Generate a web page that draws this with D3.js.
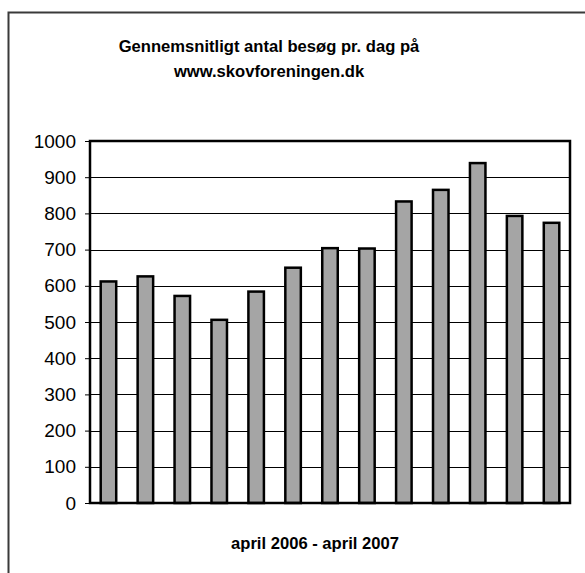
<!DOCTYPE html>
<html>
<head>
<meta charset="utf-8">
<script src="https://cdn.jsdelivr.net/npm/d3@7"></script>
<style>
  html, body { margin: 0; padding: 0; background: #fff; }
  svg { display: block; }
  text { font-family: "Liberation Sans", Arial, sans-serif; fill: #000; }
</style>
</head>
<body>
<svg id="chart" width="585" height="573"></svg>
<script>
const titleLines = ["Gennemsnitligt antal besøg pr. dag på", "www.skovforeningen.dk"];
const xAxisTitle = "april 2006 - april 2007";
const months = ["apr 06","maj 06","jun 06","jul 06","aug 06","sep 06","okt 06","nov 06","dec 06","jan 07","feb 07","mar 07","apr 07"];
const visits = [612, 626, 572, 506, 584, 650, 704, 703, 833, 865, 939, 793, 774];
const yTicks = [0, 100, 200, 300, 400, 500, 600, 700, 800, 900, 1000];

const svg = d3.select("#chart");
const plot = { left: 90, right: 570, top: 141, bottom: 503 };

// outer chart frame (cropped at right/bottom)
svg.append("rect")
  .attr("x", 8.5).attr("y", 12.5).attr("width", 600).attr("height", 600)
  .attr("fill", "none").attr("stroke", "#3a3a3a").attr("stroke-width", 2);

const x = d3.scaleBand().domain(months).range([plot.left, plot.right]).paddingInner(0.58).paddingOuter(0.29);
const y = d3.scaleLinear().domain([0, 1000]).range([plot.bottom, plot.top]);

// gridlines
svg.append("g").selectAll("line").data(yTicks.slice(1, -1)).join("line")
  .attr("x1", plot.left).attr("x2", plot.right)
  .attr("y1", d => Math.round(y(d)) + 0.5).attr("y2", d => Math.round(y(d)) + 0.5)
  .attr("stroke", "#000").attr("stroke-width", 1);

// y axis with ticks
const yAxis = d3.axisLeft(y).tickValues(yTicks).tickSize(5).tickPadding(9).tickFormat(d3.format("d"));
const gy = svg.append("g").attr("transform", `translate(${plot.left},0)`).call(yAxis);
gy.select(".domain").remove();
gy.selectAll(".tick line").attr("stroke", "#000").attr("stroke-width", 1);
gy.selectAll(".tick text").attr("font-size", 19).attr("font-family", "Liberation Sans, Arial, sans-serif").attr("fill", "#000");

// bars
svg.append("g").selectAll("rect").data(visits).join("rect")
  .attr("x", (d, i) => x(months[i]))
  .attr("y", d => y(d))
  .attr("width", x.bandwidth())
  .attr("height", d => y(0) - y(d))
  .attr("fill", "#a5a5a5")
  .attr("stroke", "#000").attr("stroke-width", 2.5);

// plot border
svg.append("rect")
  .attr("x", plot.left).attr("y", plot.top)
  .attr("width", plot.right - plot.left).attr("height", plot.bottom - plot.top)
  .attr("fill", "none").attr("stroke", "#000").attr("stroke-width", 2.5);

// title
svg.append("g").selectAll("text").data(titleLines).join("text")
  .attr("x", 269).attr("y", (d, i) => 52 + i * 25)
  .attr("text-anchor", "middle").attr("font-weight", "bold").attr("font-size", 16.6)
  .text(d => d);

// x axis title
svg.append("text").attr("x", 315).attr("y", 549)
  .attr("text-anchor", "middle").attr("font-weight", "bold").attr("font-size", 16.6)
  .text(xAxisTitle);
</script>
</body>
</html>
